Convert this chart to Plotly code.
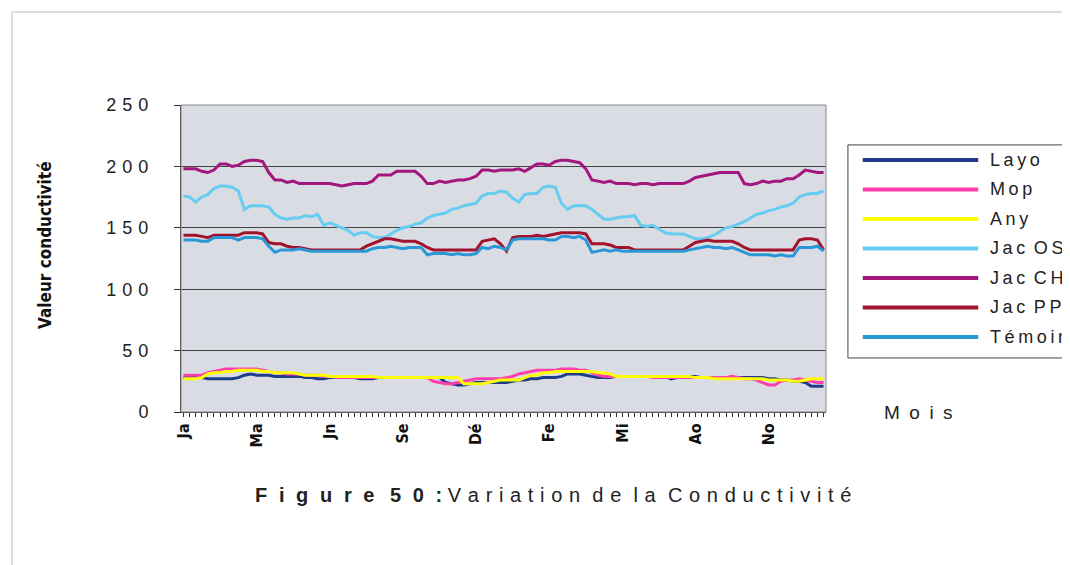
import plotly.graph_objects as go

# index des relevés (hebdomadaires) et étiquettes des mois
n_points = 106
x_idx = list(range(n_points))
month_pos = [0, 12, 24, 36, 48, 60, 72, 84, 96]
month_labels = ["Ja", "Ma", "Jn", "Se", "Dé", "Fe", "Mi", "Ao", "No"]
y_ticks = [0, 50, 100, 150, 200, 250]

layo = [28, 28, 28, 28, 27, 27, 27, 27, 27, 28,
        30, 31, 30, 30, 30, 29, 29, 29, 29, 29,
        28, 28, 27, 27, 28, 28, 28, 28, 28, 27,
        27, 27, 28, 28, 28, 28, 28, 28, 28, 28,
        28, 28, 28, 24, 23, 22, 22, 23, 24, 24,
        24, 24, 24, 24, 25, 26, 26, 27, 27, 28,
        28, 28, 29, 31, 31, 31, 30, 29, 28, 28,
        28, 29, 29, 29, 29, 29, 29, 29, 29, 29,
        27, 28, 28, 29, 29, 28, 28, 28, 28, 28,
        28, 28, 28, 28, 28, 28, 27, 27, 26, 26,
        25, 25, 24, 21, 21, 21]

mop = [30, 30, 30, 30, 32, 33, 34, 35, 35, 35,
       35, 35, 35, 34, 33, 32, 32, 31, 31, 31,
       30, 30, 30, 29, 29, 28, 28, 28, 28, 28,
       28, 28, 28, 28, 28, 28, 28, 28, 28, 28,
       28, 25, 24, 23, 23, 24, 25, 26, 27, 27,
       27, 27, 27, 28, 29, 31, 32, 33, 34, 34,
       34, 34, 35, 35, 35, 34, 34, 32, 30, 29,
       29, 29, 29, 29, 29, 29, 29, 28, 28, 28,
       28, 28, 28, 28, 28, 28, 28, 28, 28, 28,
       29, 28, 27, 27, 26, 24, 22, 22, 25, 26,
       26, 27, 26, 25, 24, 24]

any_ = [27, 27, 27, 28, 31, 32, 32, 33, 33, 34,
        34, 34, 34, 33, 33, 32, 32, 32, 32, 31,
        30, 30, 30, 30, 29, 29, 29, 29, 29, 29,
        29, 29, 28, 28, 28, 28, 28, 28, 28, 28,
        28, 28, 28, 28, 28, 28, 23, 23, 23, 23,
        24, 25, 26, 26, 26, 26, 28, 30, 30, 32,
        32, 33, 33, 33, 33, 33, 33, 33, 32, 32,
        31, 29, 29, 29, 29, 29, 29, 29, 29, 29,
        29, 29, 29, 29, 28, 28, 28, 27, 27, 27,
        27, 27, 27, 27, 27, 27, 26, 26, 26, 26,
        25, 25, 26, 27, 27, 27]

jac_os = [176, 175, 171, 175, 177, 182, 184, 184, 183, 180,
          165, 168, 168, 168, 167, 161, 158, 157, 158, 158,
          160, 159, 161, 152, 154, 152, 150, 148, 144, 146,
          146, 143, 142, 142, 145, 148, 150, 151, 153, 154,
          158, 160, 161, 162, 165, 166, 168, 169, 170, 176,
          178, 178, 180, 179, 174, 171, 177, 178, 178, 183,
          184, 183, 170, 165, 168, 168, 168, 165, 161, 157,
          157, 158, 159, 159, 160, 152, 151, 152, 149, 146,
          145, 145, 145, 143, 141, 141, 142, 144, 147, 150,
          151, 153, 155, 158, 161, 162, 164, 165, 167, 168,
          170, 175, 177, 178, 178, 180]

jac_ch = [198, 198, 198, 196, 195, 197, 202, 202, 200, 201,
          204, 205, 205, 204, 195, 189, 189, 187, 188, 186,
          186, 186, 186, 186, 186, 185, 184, 185, 186, 186,
          186, 188, 193, 193, 193, 196, 196, 196, 196, 192,
          186, 186, 188, 187, 188, 189, 189, 190, 192, 197,
          197, 196, 197, 197, 197, 198, 196, 199, 202, 202,
          201, 204, 205, 205, 204, 203, 198, 189, 188, 187,
          188, 186, 186, 186, 185, 186, 186, 185, 186, 186,
          186, 186, 186, 188, 191, 192, 193, 194, 195, 195,
          195, 195, 186, 185, 186, 188, 187, 188, 188, 190,
          190, 193, 197, 196, 195, 195]

jac_pp = [144, 144, 144, 143, 142, 144, 144, 144, 144, 144,
          146, 146, 146, 145, 138, 137, 137, 135, 134, 134,
          133, 132, 132, 132, 132, 132, 132, 132, 132, 132,
          135, 137, 139, 141, 141, 140, 139, 139, 139, 137,
          134, 132, 132, 132, 132, 132, 132, 132, 132, 139,
          140, 141, 137, 131, 142, 143, 143, 143, 144, 143,
          144, 145, 146, 146, 146, 146, 145, 137, 137, 137,
          136, 134, 134, 134, 132, 132, 132, 132, 132, 132,
          132, 132, 132, 135, 138, 139, 140, 139, 139, 139,
          139, 137, 134, 132, 132, 132, 132, 132, 132, 132,
          132, 140, 141, 141, 140, 132]

temoin = [140, 140, 140, 139, 139, 142, 142, 142, 142, 140,
          142, 142, 142, 141, 135, 130, 132, 132, 132, 133,
          132, 131, 131, 131, 131, 131, 131, 131, 131, 131,
          131, 133, 134, 134, 135, 134, 133, 134, 134, 134,
          128, 129, 129, 129, 128, 129, 128, 128, 129, 134,
          133, 135, 134, 132, 140, 141, 141, 141, 141, 141,
          140, 140, 143, 143, 142, 143, 140, 130, 131, 132,
          131, 132, 131, 131, 131, 131, 131, 131, 131, 131,
          131, 131, 131, 132, 133, 134, 135, 134, 134, 133,
          134, 132, 130, 128, 128, 128, 128, 127, 128, 127,
          127, 134, 134, 134, 135, 131]

series = [
    ("Layo", layo, "#1f3c8c"),
    ("Mop", mop, "#ff3fae"),
    ("Any", any_, "#ffff00"),
    ("Jac OS", jac_os, "#66ccf0"),
    ("Jac CH", jac_ch, "#a3167e"),
    ("Jac PP", jac_pp, "#a3132e"),
    ("Témoin", temoin, "#2a98d6"),
]


def spaced(txt, sep="\u2009", word_sep=" "):
    # texte étiré comme dans la copie d'Excel
    return word_sep.join(sep.join(w) for w in txt.split(" "))


fig = go.Figure()
for name, vals, col in series:
    fig.add_trace(go.Scatter(
        x=x_idx, y=vals, mode="lines", name=name,
        line=dict(color=col, width=3),
    ))

font_main = "Liberation Sans, Arial, sans-serif"
font_px = "DejaVu Sans Condensed, DejaVu Sans, sans-serif"

# la page html ajoute 8 px de marge autour de la figure -> figure 1062x557
fig.update_layout(
    width=1062, height=557,
    margin=dict(l=173, r=244, t=97, b=153),
    paper_bgcolor="white",
    plot_bgcolor="#d9dde3",
    showlegend=False,
    xaxis=dict(
        range=[-0.4, 105.4],
        tickmode="array", tickvals=month_pos, ticktext=month_labels,
        tickangle=-90,
        tickfont=dict(family=font_px, size=16, color="#111", weight="bold"),
        ticks="outside", ticklen=4, tickcolor="#333",
        minor=dict(dtick=1, tick0=0, ticks="outside", ticklen=4, tickcolor="#333"),
        showgrid=False, zeroline=False,
        showline=True, linecolor="#333", linewidth=1,
    ),
    yaxis=dict(
        range=[0, 250],
        tickmode="array", tickvals=y_ticks,
        ticktext=[spaced(str(v), "\u2004") for v in y_ticks],
        tickfont=dict(family=font_main, size=18, color="#222"),
        ticks="outside", ticklen=6, tickcolor="#333",
        ticklabelstandoff=22,
        showgrid=True, gridcolor="#444", gridwidth=1,
        zeroline=False,
        showline=True, linecolor="#333", linewidth=1,
    ),
)

shapes = [
    dict(type="rect", xref="paper", yref="paper", x0=0, x1=1, y0=0, y1=1,
         line=dict(color="#888", width=1)),
    dict(type="line", xref="paper", yref="paper", x0=-0.262, x1=1.45, y0=1.303, y1=1.303,
         line=dict(color="#bbb", width=1)),
    dict(type="line", xref="paper", yref="paper", x0=-0.262, x1=-0.262, y0=1.303, y1=-0.52,
         line=dict(color="#bbb", width=1)),
    # cadre de la légende (coupé à droite comme sur la copie)
    dict(type="rect", xref="paper", yref="paper", x0=1.034, x1=1.45, y0=0.176, y1=0.870,
         line=dict(color="#444", width=1), fillcolor="white"),
]
annotations = []
for k, (name, vals, col) in enumerate(series):
    yk = 0.821 - k * 0.0961
    shapes.append(dict(type="line", xref="paper", yref="paper",
                       x0=1.057, x1=1.236, y0=yk, y1=yk,
                       line=dict(color=col, width=4)))
    annotations.append(dict(text=spaced(name, "\u2009", " \u2009"), xref="paper", yref="paper",
                            x=1.251, y=yk, xanchor="left", yanchor="middle",
                            showarrow=False,
                            font=dict(family=font_main, size=18, color="#222")))

caption = ("<b>" + spaced("Figure", "\u2002\u200a") + "\u2002 " + spaced("50:", "\u2002\u200a")
           + "</b> " + spaced("Variation de la Conductivité", "\u2004", "\u2004 "))

annotations += [
    dict(text=spaced("Mois", "\u2002"), xref="paper", yref="paper", x=1.143, y=0.0,
         xanchor="center", yanchor="middle", showarrow=False,
         font=dict(family=font_main, size=19, color="#222")),
    dict(text=caption, xref="paper", yref="paper", x=0.577, y=-0.27,
         xanchor="center", yanchor="middle", showarrow=False,
         font=dict(family=font_main, size=20, color="#222")),
    dict(text="<b>Valeur conductivité</b>", xref="paper", yref="paper",
         x=-0.211, y=0.544, textangle=-90, xanchor="center", yanchor="middle",
         showarrow=False, font=dict(family=font_px, size=17, color="#111")),
]

fig.update_layout(shapes=shapes, annotations=annotations)

fig.write_html("out.html")
